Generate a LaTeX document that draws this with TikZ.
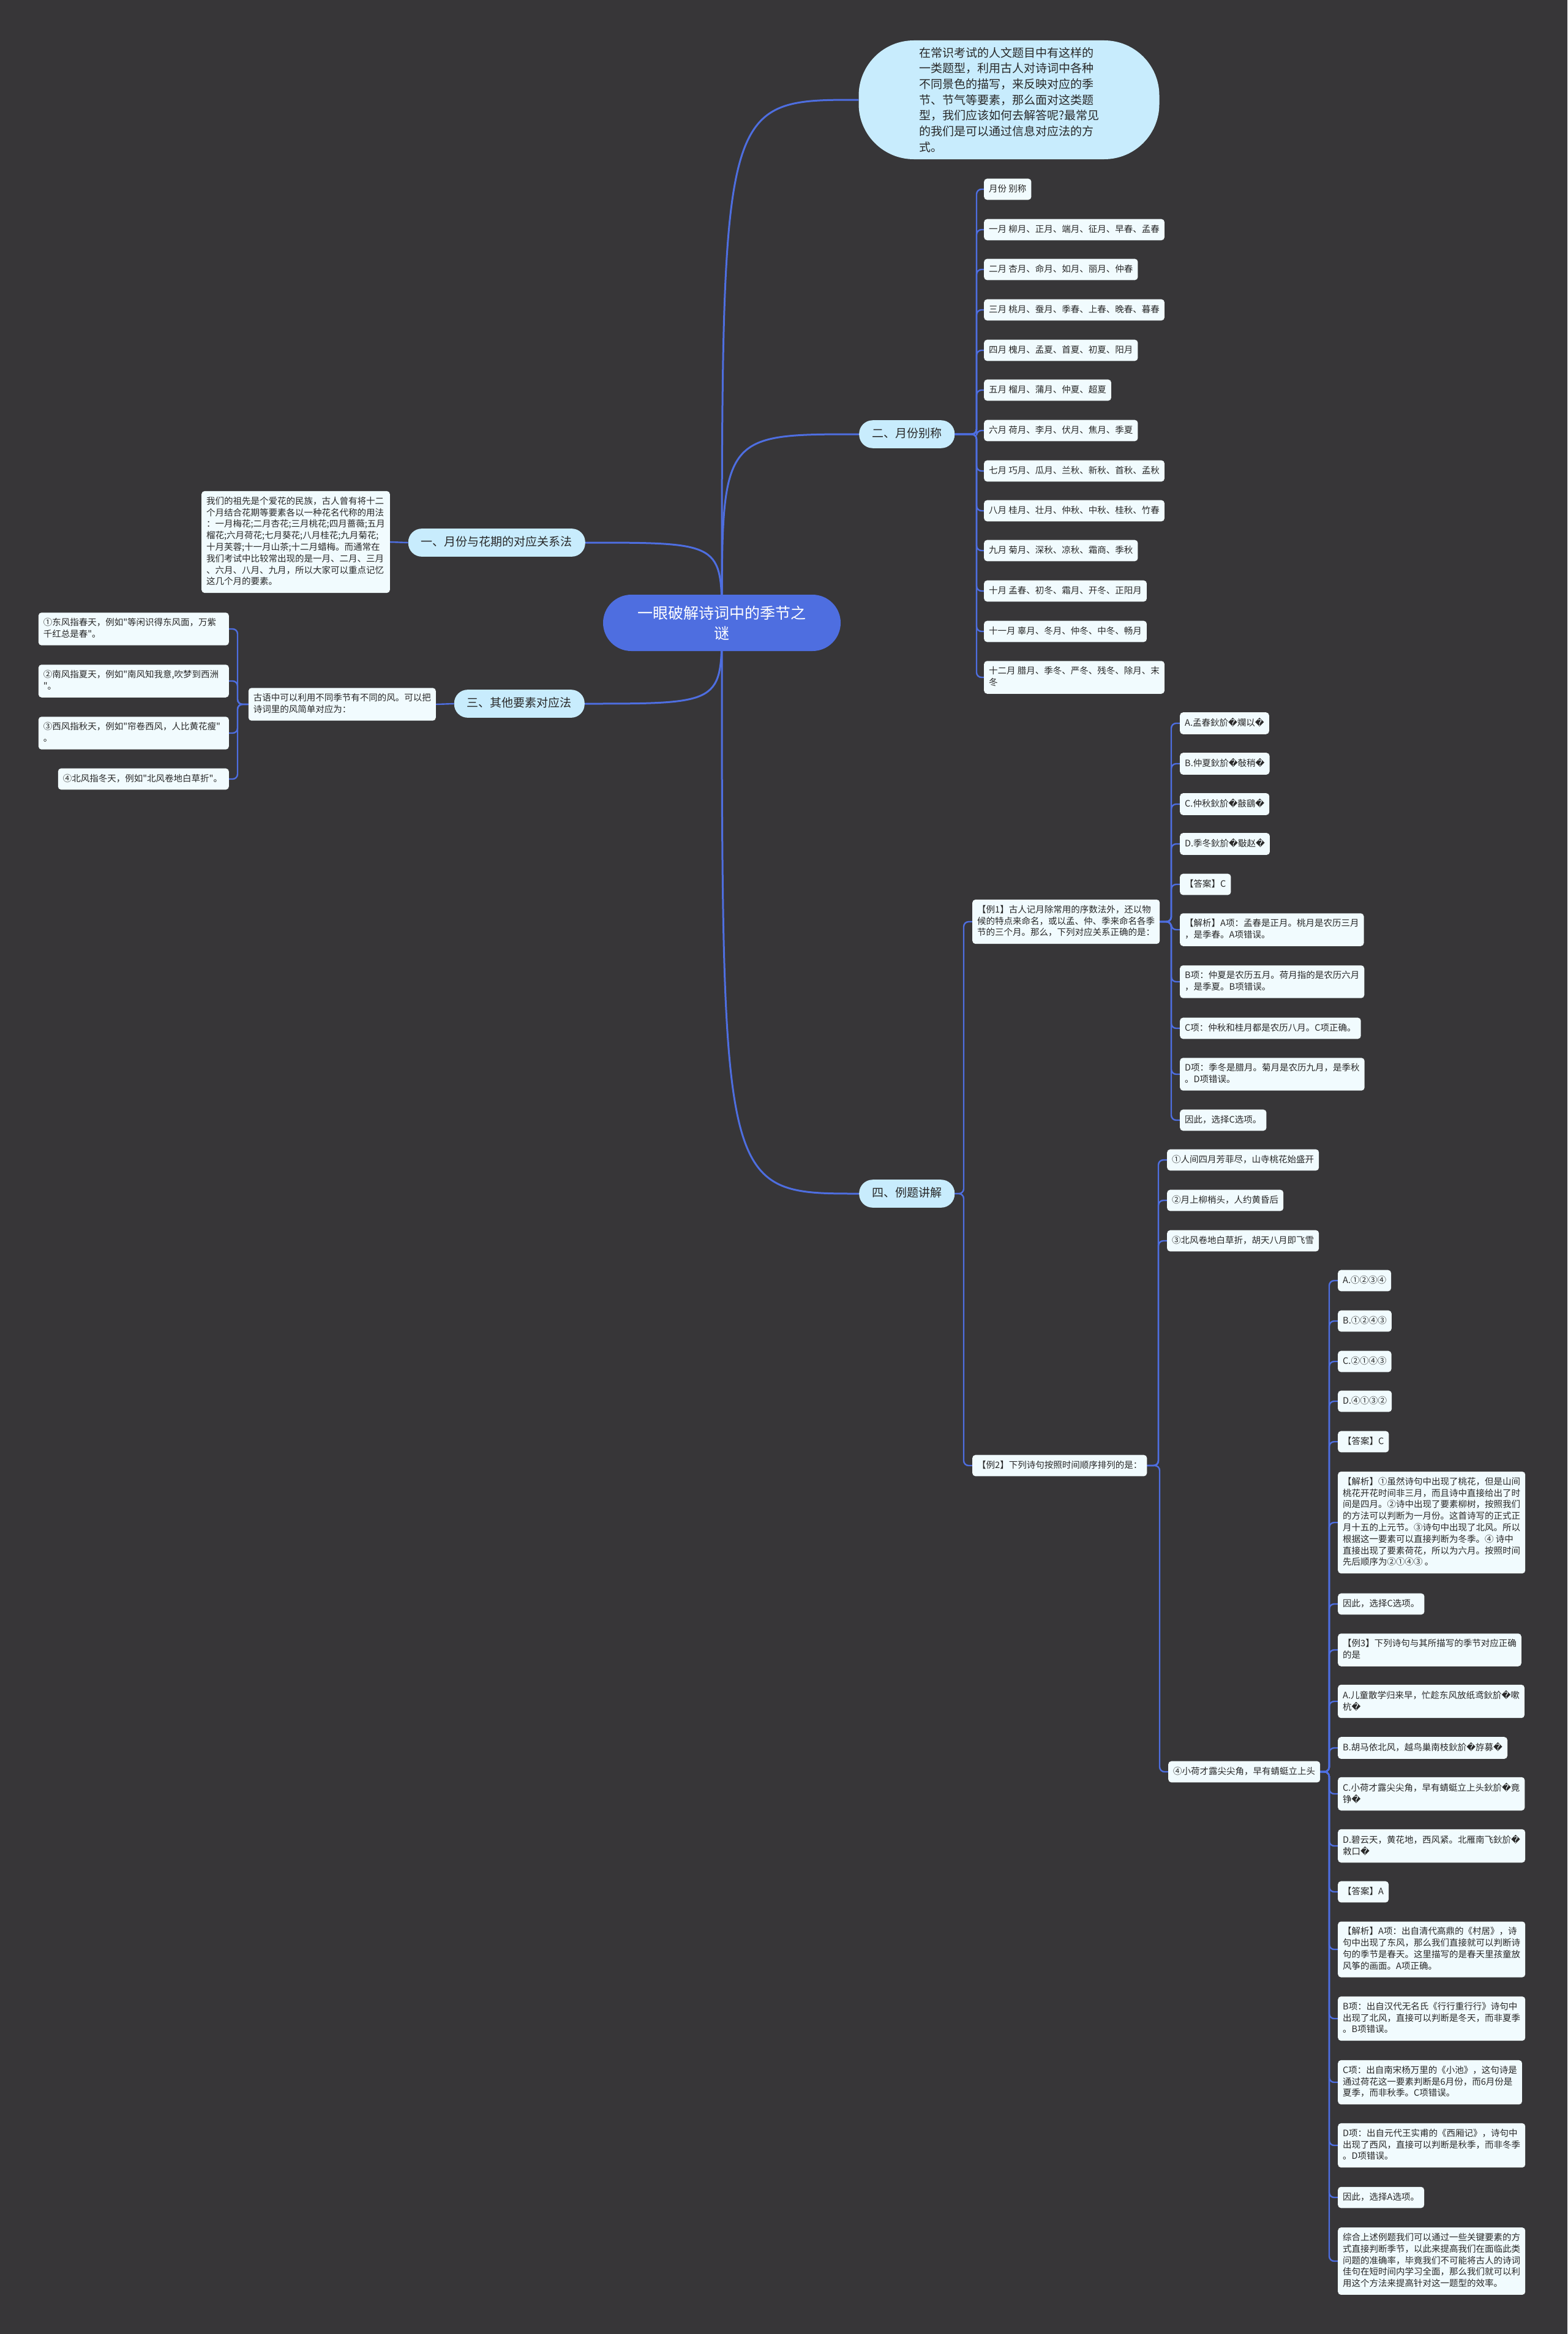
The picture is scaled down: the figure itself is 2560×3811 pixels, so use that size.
\documentclass[tikz,border=0pt]{standalone}
\usepackage{fontspec}
\setmainfont{Noto Sans CJK SC}[Ligatures=TeXOff]
\newfontfamily\dvs{DejaVu Sans}
\newcommand\rc{{\dvs\symbol{"FFFD}}}
\newcommand\lstr{\rule[-4pt]{0pt}{11.6pt}}
\newcommand\bstr{\rule[-5pt]{0pt}{15.5pt}}
\definecolor{bgc}{RGB}{55,54,56}
\definecolor{rootc}{RGB}{78,110,224}
\definecolor{linec}{RGB}{78,110,224}
\definecolor{brc}{RGB}{200,236,253}
\definecolor{leafc}{RGB}{241,251,254}
\definecolor{txt}{RGB}{40,40,40}
\pgfdeclarelayer{bgfill}
\pgfdeclarelayer{bg}
\pgfsetlayers{bgfill,bg,main}
\tikzset{
  leaf/.style={fill=leafc, rounded corners=5pt, inner xsep=8pt, inner ysep=9.2pt,
    font=\fontsize{14.5pt}{18.8pt}\selectfont, align=left, text=txt,
    execute at begin node=\lstr, execute at end node=\lstr},
  branch/.style={fill=brc, rounded corners=22pt, inner xsep=21pt, inner ysep=12.3pt,
    font=\fontsize{19pt}{24pt}\selectfont, text=txt, execute at begin node=\bstr},
  rootnode/.style={fill=rootc, rounded corners=46pt, minimum width=388pt, minimum height=92pt,
    font=\fontsize{25pt}{33pt}\selectfont, align=center, text=white},
  bubble/.style={fill=brc, rounded corners=90pt, minimum width=491pt, minimum height=194pt,
    font=\fontsize{19pt}{25.7pt}\selectfont, align=left, text=txt},
  mainline/.style={draw=linec, line width=3pt},
  spine/.style={draw=linec, line width=2.4pt, rounded corners=8pt},
}
\begin{document}
\begin{tikzpicture}[x=1pt, y=-1pt]
\useasboundingbox (0,0) rectangle (2560,3811);
\begin{pgfonlayer}{bgfill}
\fill[bgc] (0,0) rectangle (2560,3811);
\end{pgfonlayer}

% root and main branches
\node[rootnode] (root) at (1179,1017) {一眼破解诗词中的季节之\\谜};
\node[bubble] (bub) at (1648,163) {在常识考试的人文题目中有这样的\\一类题型，利用古人对诗词中各种\\不同景色的描写，来反映对应的季\\节、节气等要素，那么面对这类题\\型，我们应该如何去解答呢?最常见\\的我们是可以通过信息对应法的方\\式。};
\node[branch, anchor=west] (b2) at (1403,709) {二、月份别称};
\node[branch, anchor=east] (b1) at (956,886) {一、月份与花期的对应关系法};
\node[branch, anchor=east] (b3) at (955,1149) {三、其他要素对应法};
\node[branch, anchor=west] (b4) at (1403,1949) {四、例题讲解};

% branch 1
\node[leaf, anchor=east] (n1) at (637,885) {我们的祖先是个爱花的民族，古人曾有将十二\\个月结合花期等要素各以一种花名代称的用法\\：一月梅花;二月杏花;三月桃花;四月蔷薇;五月\\榴花;六月荷花;七月葵花;八月桂花;九月菊花;\\十月芙蓉;十一月山茶;十二月蜡梅。而通常在\\我们考试中比较常出现的是一月、二月、三月\\、六月、八月、九月，所以大家可以重点记忆\\这几个月的要素。};

% branch 3
\node[leaf, anchor=east] (n3) at (712,1150) {古语中可以利用不同季节有不同的风。可以把\\诗词里的风简单对应为：};
\node[leaf, anchor=east, text width=295pt] (w1) at (374,1027) {①东风指春天，例如"等闲识得东风面，万紫\\千红总是春"。};
\node[leaf, anchor=east, text width=295pt] (w2) at (374,1112) {②南风指夏天，例如"南风知我意,吹梦到西洲\\"。};
\node[leaf, anchor=east, text width=295pt] (w3) at (374,1197) {③西风指秋天，例如"帘卷西风，人比黄花瘦"\\。};
\node[leaf, anchor=east, text width=263pt] (w4) at (374,1272) {④北风指冬天，例如"北风卷地白草折"。};

% branch 2: months
\node[leaf, anchor=west] (m0) at (1607,309) {月份 别称};
\node[leaf, anchor=west] (m1) at (1607,375) {一月 柳月、正月、端月、征月、早春、孟春};
\node[leaf, anchor=west] (m2) at (1607,440) {二月 杏月、命月、如月、丽月、仲春};
\node[leaf, anchor=west] (m3) at (1607,506) {三月 桃月、蚕月、季春、上春、晚春、暮春};
\node[leaf, anchor=west] (m4) at (1607,572) {四月 槐月、孟夏、首夏、初夏、阳月};
\node[leaf, anchor=west] (m5) at (1607,637) {五月 榴月、蒲月、仲夏、超夏};
\node[leaf, anchor=west] (m6) at (1607,703) {六月 荷月、李月、伏月、焦月、季夏};
\node[leaf, anchor=west] (m7) at (1607,769) {七月 巧月、瓜月、兰秋、新秋、首秋、孟秋};
\node[leaf, anchor=west] (m8) at (1607,834) {八月 桂月、壮月、仲秋、中秋、桂秋、竹春};
\node[leaf, anchor=west] (m9) at (1607,899) {九月 菊月、深秋、凉秋、霜商、季秋};
\node[leaf, anchor=west] (m10) at (1607,965) {十月 孟春、初冬、霜月、开冬、正阳月};
\node[leaf, anchor=west] (m11) at (1607,1031) {十一月 辜月、冬月、仲冬、中冬、畅月};
\node[leaf, anchor=west] (m12) at (1607,1106) {十二月 腊月、季冬、严冬、残冬、除月、末\\冬};

% branch 4: examples
\node[leaf, anchor=west] (e1) at (1588,1505) {【例1】古人记月除常用的序数法外，还以物\\候的特点来命名，或以孟、仲、季来命名各季\\节的三个月。那么，下列对应关系正确的是：};
\node[leaf, anchor=west] (e2) at (1588,2393) {【例2】下列诗句按照时间顺序排列的是：};

\node[leaf, anchor=west] (a1) at (1927,1181) {A.孟春鈥斺\rc 斕以\rc};
\node[leaf, anchor=west] (a2) at (1927,1247) {B.仲夏鈥斺\rc 敧稍\rc};
\node[leaf, anchor=west] (a3) at (1927,1313) {C.仲秋鈥斺\rc 敼鷂\rc};
\node[leaf, anchor=west] (a4) at (1927,1378) {D.季冬鈥斺\rc 斀赵\rc};
\node[leaf, anchor=west] (a5) at (1927,1444) {【答案】C};
\node[leaf, anchor=west] (a6) at (1927,1518) {【解析】A项：孟春是正月。桃月是农历三月\\，是季春。A项错误。};
\node[leaf, anchor=west] (a7) at (1927,1603) {B项：仲夏是农历五月。荷月指的是农历六月\\，是季夏。B项错误。};
\node[leaf, anchor=west] (a8) at (1927,1679) {C项：仲秋和桂月都是农历八月。C项正确。};
\node[leaf, anchor=west] (a9) at (1927,1754) {D项：季冬是腊月。菊月是农历九月，是季秋\\。D项错误。};
\node[leaf, anchor=west] (a10) at (1927,1829) {因此，选择C选项。};

\node[leaf, anchor=west] (p1) at (1906,1894) {①人间四月芳菲尽，山寺桃花始盛开};
\node[leaf, anchor=west] (p2) at (1906,1960) {②月上柳梢头，人约黄昏后};
\node[leaf, anchor=west] (p3) at (1906,2026) {③北风卷地白草折，胡天八月即飞雪};
\node[leaf, anchor=west] (p4) at (1908,2893) {④小荷才露尖尖角，早有蜻蜓立上头};

\node[leaf, anchor=west] (q1) at (2185,2091) {A.①②③④};
\node[leaf, anchor=west] (q2) at (2185,2157) {B.①②④③};
\node[leaf, anchor=west] (q3) at (2185,2223) {C.②①④③};
\node[leaf, anchor=west] (q4) at (2185,2288) {D.④①③②};
\node[leaf, anchor=west] (q5) at (2185,2354) {【答案】C};
\node[leaf, anchor=west] (q6) at (2185,2486) {【解析】①虽然诗句中出现了桃花，但是山间\\桃花开花时间非三月，而且诗中直接给出了时\\间是四月。②诗中出现了要素柳树，按照我们\\的方法可以判断为一月份。这首诗写的正式正\\月十五的上元节。③诗句中出现了北风。所以\\根据这一要素可以直接判断为冬季。④ 诗中\\直接出现了要素荷花，所以为六月。按照时间\\先后顺序为②①④③ 。};
\node[leaf, anchor=west] (q7) at (2185,2619) {因此，选择C选项。};
\node[leaf, anchor=west] (q8) at (2185,2694) {【例3】下列诗句与其所描写的季节对应正确\\的是};
\node[leaf, anchor=west] (q9) at (2185,2778) {A.儿童散学归来早，忙趁东风放纸鸢鈥斺\rc 嗽\\杭\rc};
\node[leaf, anchor=west] (q10) at (2185,2854) {B.胡马依北风，越鸟巢南枝鈥斺\rc 斿募\rc};
\node[leaf, anchor=west] (q11) at (2185,2929) {C.小荷才露尖尖角，早有蜻蜓立上头鈥斺\rc 竟\\铮\rc};
\node[leaf, anchor=west] (q12) at (2185,3014) {D.碧云天，黄花地，西风紧。北雁南飞鈥斺\rc\\敹口\rc};
\node[leaf, anchor=west] (q13) at (2185,3089) {【答案】A};
\node[leaf, anchor=west] (q14) at (2185,3183) {【解析】A项：出自清代高鼎的《村居》，诗\\句中出现了东风，那么我们直接就可以判断诗\\句的季节是春天。这里描写的是春天里孩童放\\风筝的画面。A项正确。};
\node[leaf, anchor=west] (q15) at (2185,3296) {B项：出自汉代无名氏《行行重行行》诗句中\\出现了北风，直接可以判断是冬天，而非夏季\\。B项错误。};
\node[leaf, anchor=west] (q16) at (2185,3400) {C项：出自南宋杨万里的《小池》，这句诗是\\通过荷花这一要素判断是6月份，而6月份是\\夏季，而非秋季。C项错误。};
\node[leaf, anchor=west] (q17) at (2185,3503) {D项：出自元代王实甫的《西厢记》，诗句中\\出现了西风，直接可以判断是秋季，而非冬季\\。D项错误。};
\node[leaf, anchor=west] (q18) at (2185,3588) {因此，选择A选项。};
\node[leaf, anchor=west] (q19) at (2185,3692) {综合上述例题我们可以通过一些关键要素的方\\式直接判断季节，以此来提高我们在面临此类\\问题的准确率，毕竟我们不可能将古人的诗词\\佳句在短时间内学习全面，那么我们就可以利\\用这个方法来提高针对这一题型的效率。};

\begin{pgfonlayer}{bg}
% root connectors
\draw[mainline] (root.center) .. controls (root.center |- bub.west) .. (bub.west);
\draw[mainline] (root.center) .. controls (root.center |- b2.west) .. (b2.west);
\draw[mainline] (root.center) .. controls (root.center |- b4.west) .. (b4.west);
\draw[mainline] (root.center) .. controls (root.center |- b1.east) .. (b1.east);
\draw[mainline] (root.center) .. controls (root.center |- b3.east) .. (b3.east);
% branch 1 and 3
\draw[spine] (b1.west) -- (n1.east);
\draw[spine] (b3.west) -- (n3.east);
\foreach \c in {w1,w2,w3,w4}
  \draw[spine] (n3.west) -| ([xshift=14pt]\c.east) -- (\c.east);
% months
\foreach \c in {m0,m1,m2,m3,m4,m5,m6,m7,m8,m9,m10,m11,m12}
  \draw[spine] (b2.east) -| ([xshift=-12pt]\c.west) -- (\c.west);
% examples
\foreach \c in {e1,e2}
  \draw[spine] (b4.east) -| ([xshift=-14pt]\c.west) -- (\c.west);
\foreach \c in {a1,a2,a3,a4,a5,a6,a7,a8,a9,a10}
  \draw[spine] (e1.east) -| ([xshift=-14pt]\c.west) -- (\c.west);
\foreach \c in {p1,p2,p3,p4}
  \draw[spine] (e2.east) -| ([xshift=-14pt]\c.west) -- (\c.west);
\foreach \c in {q1,q2,q3,q4,q5,q6,q7,q8,q9,q10,q11,q12,q13,q14,q15,q16,q17,q18,q19}
  \draw[spine] (p4.east) -| ([xshift=-14pt]\c.west) -- (\c.west);
\end{pgfonlayer}
\end{tikzpicture}
\end{document}
